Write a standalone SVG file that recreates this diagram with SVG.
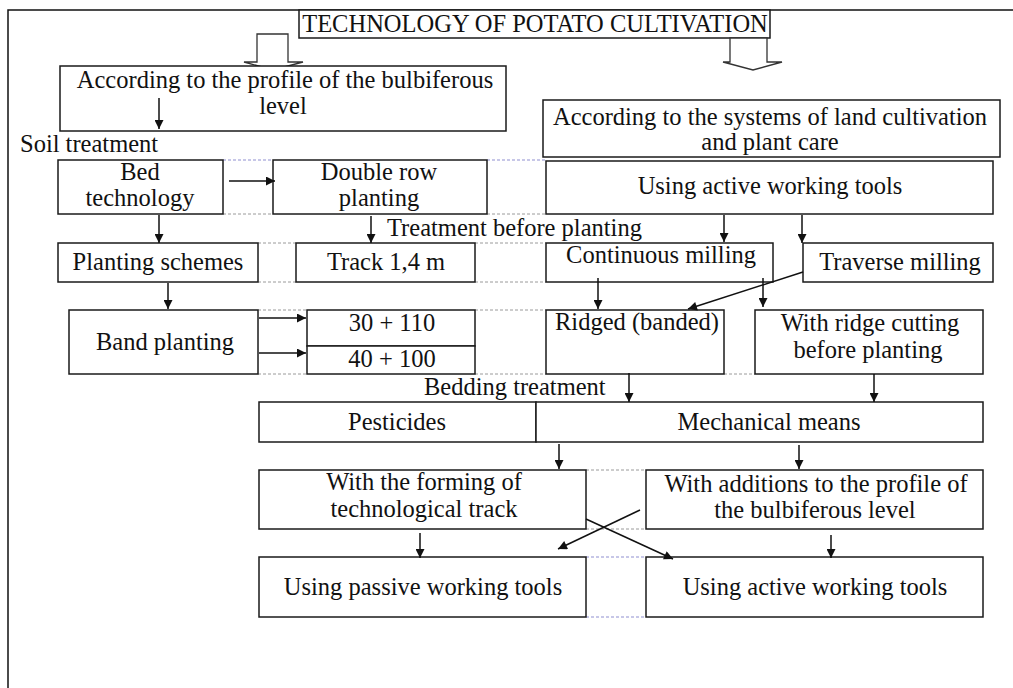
<svg xmlns="http://www.w3.org/2000/svg" width="1013" height="688" viewBox="0 0 1013 688">
<defs>
<style>
.b{fill:#fff;stroke:#1a1a1a;stroke-width:1.5}
.t{font-family:"Liberation Serif","Times New Roman",serif;font-size:24.5px;fill:#111;text-anchor:middle}
.l{font-family:"Liberation Serif","Times New Roman",serif;font-size:24.5px;fill:#111}
.c{fill:none;stroke:#111;stroke-width:1.5}
.dg{fill:none;stroke:#9a9a9a;stroke-width:1;stroke-dasharray:3 2}
.db{fill:none;stroke:#8f8fd0;stroke-width:1;stroke-dasharray:3 2}
.blk{fill:#fff;stroke:#333;stroke-width:1.3}
</style>
<marker id="ah" viewBox="0 0 10 10" refX="10" refY="5" markerWidth="10" markerHeight="9" markerUnits="userSpaceOnUse" orient="auto">
<path d="M0,0 L10,5 L0,10 z" fill="#111"/>
</marker>
</defs>
<rect width="1013" height="688" fill="#fff"/>
<g id="frame">
<path d="M8,688 V10 H1013" class="c" stroke-width="1.3"/>
</g>
<g id="dashes">
<path class="db" d="M223,160 H273 M487,160 H546 M586,557 H646 M586,617 H646"/>
<path class="dg" d="M223,214 H273 M487,214 H546 M258,243 H296 M475,243 H546 M258,282 H296 M475,282 H546 M258,310 H307 M475,310 H546 M258,374 H307 M475,374 H546 M724,374 H755 M586,470 H646 M586,529 H646"/>
</g>
<g id="title">
<rect x="299" y="10" width="471" height="28" class="b"/>
<text x="535" y="32" class="t">TECHNOLOGY OF POTATO CULTIVATION</text>
</g>
<g id="block-arrows">
<polygon class="blk" points="257,34 288,34 288,62 303,62 273,70 244,62 257,62"/>
<polygon class="blk" points="730,38 767,38 767,62 782,62 753,70 723,62 730,62"/>
</g>
<g id="n-profile">
<rect x="60" y="66" width="446" height="65" class="b"/>
<text x="285" y="88" class="t">According to the profile of the bulbiferous</text>
<text x="283" y="114" class="t">level</text>
</g>
<g id="n-soil">
<text x="20" y="152" class="l">Soil treatment</text>
</g>
<g id="n-systems">
<rect x="543" y="100" width="457" height="57" class="b"/>
<text x="770" y="125" class="t">According to the systems of land cultivation</text>
<text x="770" y="150" class="t">and plant care</text>
</g>
<g id="n-bed">
<rect x="58" y="160" width="165" height="54" class="b"/>
<text x="140" y="180" class="t">Bed</text>
<text x="140" y="206" class="t">technology</text>
</g>
<g id="n-double">
<rect x="273" y="160" width="214" height="54" class="b"/>
<text x="379" y="180" class="t">Double row</text>
<text x="379" y="206" class="t">planting</text>
</g>
<g id="n-active-top">
<rect x="546" y="161" width="447" height="53" class="b"/>
<text x="770" y="194" class="t">Using active working tools</text>
</g>
<g id="n-treat-before">
<text x="387" y="236" class="l">Treatment before planting</text>
</g>
<g id="n-schemes">
<rect x="58" y="243" width="200" height="39" class="b"/>
<text x="158" y="270" class="t">Planting schemes</text>
</g>
<g id="n-track">
<rect x="296" y="243" width="179" height="39" class="b"/>
<text x="386" y="270" class="t">Track 1,4 m</text>
</g>
<g id="n-continuous">
<rect x="546" y="243" width="227" height="39" class="b"/>
<text x="661" y="263" class="t">Continuous milling</text>
</g>
<g id="n-traverse">
<rect x="803" y="243" width="190" height="39" class="b"/>
<text x="900" y="270" class="t">Traverse milling</text>
</g>
<g id="n-band">
<rect x="69" y="310" width="189" height="64" class="b"/>
<text x="165" y="350" class="t">Band planting</text>
</g>
<g id="n-30">
<rect x="307" y="310" width="168" height="36" class="b"/>
<text x="392" y="331" class="t">30 + 110</text>
</g>
<g id="n-40">
<rect x="307" y="346" width="168" height="28" class="b"/>
<text x="392" y="367" class="t">40 + 100</text>
</g>
<g id="n-ridged">
<rect x="546" y="310" width="178" height="64" class="b"/>
<text x="637" y="330" class="t">Ridged (banded)</text>
</g>
<g id="n-ridgecut">
<rect x="755" y="310" width="228" height="64" class="b"/>
<text x="870" y="331" class="t">With ridge cutting</text>
<text x="868" y="358" class="t">before planting</text>
</g>
<g id="n-bedding">
<text x="424" y="395" class="l">Bedding treatment</text>
</g>
<g id="n-pesticides">
<rect x="259" y="402" width="277" height="40" class="b"/>
<text x="397" y="430" class="t">Pesticides</text>
</g>
<g id="n-mechanical">
<rect x="536" y="402" width="447" height="40" class="b"/>
<text x="769" y="430" class="t">Mechanical means</text>
</g>
<g id="n-forming">
<rect x="259" y="470" width="327" height="59" class="b"/>
<text x="424" y="490" class="t">With the forming of</text>
<text x="424" y="517" class="t">technological track</text>
</g>
<g id="n-additions">
<rect x="646" y="470" width="337" height="59" class="b"/>
<text x="816" y="492" class="t">With additions to the profile of</text>
<text x="815" y="518" class="t">the bulbiferous level</text>
</g>
<g id="n-passive">
<rect x="259" y="557" width="327" height="60" class="b"/>
<text x="423" y="595" class="t">Using passive working tools</text>
</g>
<g id="n-active-bottom">
<rect x="646" y="557" width="337" height="60" class="b"/>
<text x="815" y="595" class="t">Using active working tools</text>
</g>
<g id="connectors" class="c" marker-end="url(#ah)">
<path d="M159,98 V129"/>
<path d="M229,181 H275"/>
<path d="M159,215 V243"/>
<path d="M371,216 V243"/>
<path d="M724,215 V242"/>
<path d="M802,215 V243"/>
<path d="M168,283 V309"/>
<path d="M259,318 H306"/>
<path d="M259,353 H306"/>
<path d="M598,278 V309"/>
<path d="M763,278 V307"/>
<path d="M803,272 L688,309"/>
<path d="M629,373 V402"/>
<path d="M874,374 V402"/>
<path d="M559,444 V469"/>
<path d="M799,445 V469"/>
<path d="M420,533 V558"/>
<path d="M831,535 V558"/>
<path d="M586,519 L673,559"/>
<path d="M640,510 L558,549"/>
</g>
</svg>
